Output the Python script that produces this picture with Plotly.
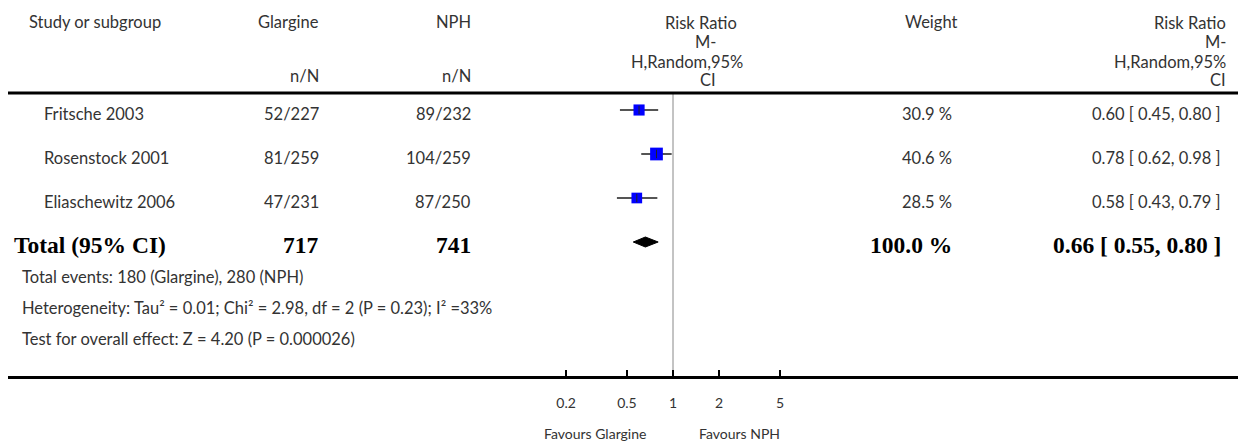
import math
import plotly.graph_objects as go

# ---------------- data ----------------
studies = ["Fritsche 2003", "Rosenstock 2001", "Eliaschewitz 2006"]
glargine_nN = ["52/227", "81/259", "47/231"]
nph_nN = ["89/232", "104/259", "87/250"]
weights = [30.9, 40.6, 28.5]
rr = [0.60, 0.78, 0.58]
rr_lo = [0.45, 0.62, 0.43]
rr_hi = [0.80, 0.98, 0.79]

total_label = "Total (95% CI)"
total_glargine = "717"
total_nph = "741"
total_weight = 100.0
total_rr = 0.66
total_lo = 0.55
total_hi = 0.80

footer_lines = [
    "Total events: 180 (Glargine), 280 (NPH)",
    "Heterogeneity: Tau² = 0.01; Chi² = 2.98, df = 2 (P = 0.23); I² =33%",
    "Test for overall effect: Z = 4.20 (P = 0.000026)",
]
tick_vals = [0.2, 0.5, 1, 2, 5]
tick_text = ["0.2", "0.5", "1", "2", "5"]
favours_left = "Favours Glargine"
favours_right = "Favours NPH"

# ---------------- layout constants (screen pixels) ----------------
OFF = 8                        # default page body margin
W, H = 1253 - OFF, 442 - OFF   # figure size
ROW0, ROWH = 110, 44           # screen y of first row, row spacing
AXIS_Y = 376                   # screen y of x axis line
X_ONE = 673                    # screen x of RR = 1
DECADE = 153                   # pixels per decade
AX_L, AX_R = OFF, 1238

REG = "Lato"
RS = 16.5
BOLD = "Liberation Serif"
BS = 23.5
TXT = "#333333"


def px(x):
    return (x - OFF) / W


def py(y):
    return 1 - (y - OFF) / H


def row_of_pixel(y):
    return (y - ROW0) / ROWH


fig = go.Figure()

# reference line at RR=1 (inside plot area)
fig.add_trace(go.Scatter(x=[1, 1], y=[row_of_pixel(94), row_of_pixel(AXIS_Y)],
                         mode="lines", line=dict(color="#888888", width=1),
                         hoverinfo="skip", showlegend=False))

# CI lines + squares
for i in range(len(studies)):
    fig.add_trace(go.Scatter(x=[rr_lo[i], rr_hi[i]], y=[i, i], mode="lines",
                             line=dict(color="#555555", width=2),
                             hoverinfo="skip", showlegend=False))
fig.add_trace(go.Scatter(x=rr, y=list(range(len(studies))), mode="markers",
                         marker=dict(symbol="square", color="#0000FF", opacity=1,
                                     size=[2 * math.sqrt(w) for w in weights],
                                     line=dict(width=0)),
                         showlegend=False))
fig.add_trace(go.Scatter(x=rr, y=list(range(len(studies))), mode="markers",
                         marker=dict(symbol="line-ns", size=6, opacity=1,
                                     line=dict(color="#222222", width=1)),
                         hoverinfo="skip", showlegend=False))

# diamond
ti = len(studies)
dh = 5 / ROWH
fig.add_trace(go.Scatter(x=[total_lo, total_rr, total_hi, total_rr, total_lo],
                         y=[ti, ti - dh, ti, ti + dh, ti], mode="lines",
                         fill="toself", fillcolor="black",
                         line=dict(color="black", width=1),
                         hoverinfo="skip", showlegend=False))

ann = []


def text(x, y, s, anchor="left", size=RS, font=REG, color=TXT, yref="paper", yshift=0):
    ann.append(dict(x=px(x), y=y, xref="paper", yref=yref, text=s, showarrow=False,
                    xanchor=anchor, yanchor="middle", yshift=yshift,
                    font=dict(family=font, size=size, color=color)))


# headers
text(27, py(22), "Study or subgroup")
text(321, py(22), "Glargine", "right")
text(473, py(22), "NPH", "right")
text(321, py(76), "n/N", "right")
text(473, py(76), "n/N", "right")
text(903, py(22), "Weight")
for s, cx, yy in [("Risk Ratio", 701, 23), ("M-", 705, 42), ("H,Random,95%", 687, 62), ("CI", 708, 80)]:
    text(cx, py(yy), s, "center")
for s, yy in [("Risk Ratio", 23), ("M-", 42), ("H,Random,95%", 62), ("CI", 80)]:
    text(1228, py(yy), s, "right")

# study rows
for i in range(len(studies)):
    text(42, i, studies[i], yref="y", yshift=-4)
    text(321, i, glargine_nN[i], "right", yref="y", yshift=-4)
    text(473, i, nph_nN[i], "right", yref="y", yshift=-4)
    text(954, i, f"{weights[i]:.1f} %", "right", yref="y", yshift=-4)
    text(1223, i, f"{rr[i]:.2f} [ {rr_lo[i]:.2f}, {rr_hi[i]:.2f} ]", "right", yref="y", yshift=-4)

# total row
text(12, ti, f"<b>{total_label}</b>", size=BS, font=BOLD, color="black", yref="y", yshift=-3)
text(321, ti, f"<b>{total_glargine}</b>", "right", size=BS, font=BOLD, color="black", yref="y", yshift=-3)
text(473, ti, f"<b>{total_nph}</b>", "right", size=BS, font=BOLD, color="black", yref="y", yshift=-3)
text(954, ti, f"<b>{total_weight:.1f} %</b>", "right", size=BS, font=BOLD, color="black", yref="y", yshift=-3)
text(1223, ti, f"<b>{total_rr:.2f} [ {total_lo:.2f}, {total_hi:.2f} ]</b>", "right", size=BS,
     font=BOLD, color="black", yref="y", yshift=-3)

# footer
for k, s in enumerate(footer_lines):
    text(20, py(277 + 31 * k), s)

# favours labels
ann.append(dict(x=0, y=py(433), xref="x", yref="paper", text=favours_left, showarrow=False,
                xanchor="right", yanchor="middle", xshift=-25,
                font=dict(family=REG, size=14, color=TXT)))
ann.append(dict(x=0, y=py(433), xref="x", yref="paper", text=favours_right, showarrow=False,
                xanchor="left", yanchor="middle", xshift=24,
                font=dict(family=REG, size=14, color=TXT)))

shapes = [
    # header rule
    dict(type="line", xref="paper", yref="paper", x0=0, x1=px(1238), y0=py(93), y1=py(93),
         line=dict(color="black", width=3)),
    # faint reference line below axis
    dict(type="line", xref="x", yref="paper", x0=0, x1=0, y0=py(AXIS_Y + 2), y1=0,
         line=dict(color="#dddddd", width=1)),
]

x_lo = (AX_L - X_ONE) / DECADE
x_hi = (AX_R - X_ONE) / DECADE

fig.update_layout(
    width=W, height=H, margin=dict(l=0, r=0, t=0, b=0),
    paper_bgcolor="white", plot_bgcolor="white",
    annotations=ann, shapes=shapes, showlegend=False,
    xaxis=dict(type="log", range=[x_lo, x_hi], domain=[px(AX_L), px(AX_R)],
               tickvals=tick_vals, ticktext=tick_text, ticks="inside", ticklen=6,
               tickwidth=2, tickcolor="black", showline=True, linewidth=3,
               linecolor="black", showgrid=False, zeroline=False,
               tickfont=dict(family=REG, size=14, color=TXT), ticklabelstandoff=12),
    yaxis=dict(range=[row_of_pixel(AXIS_Y), row_of_pixel(OFF)],
               domain=[1 - (AXIS_Y - OFF) / H, 1],
               visible=False, showgrid=False, zeroline=False),
)

fig.write_html("out.html")
